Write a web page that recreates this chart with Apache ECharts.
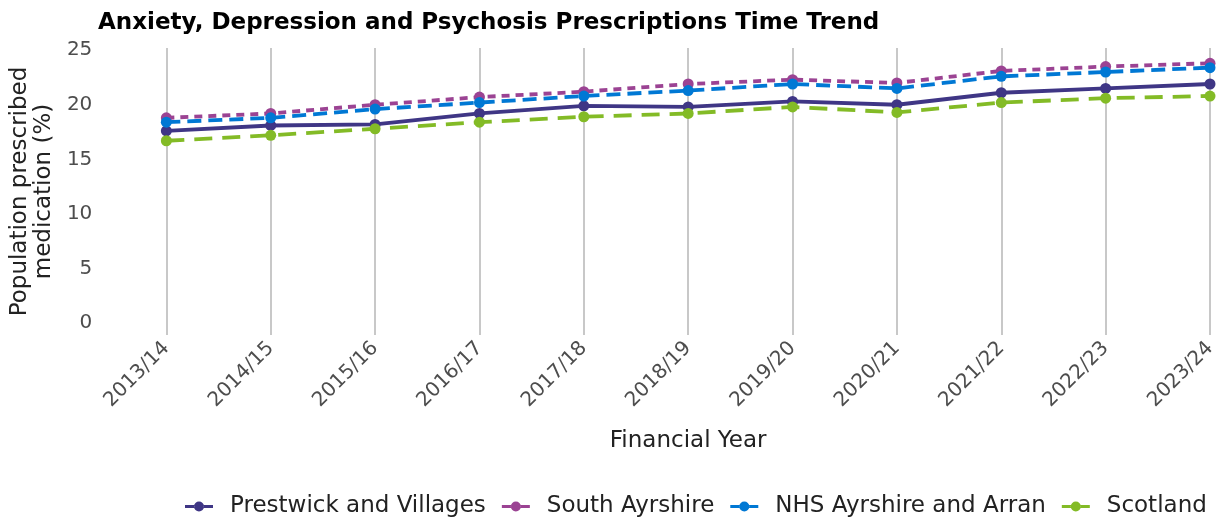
<!DOCTYPE html>
<html>
<head>
<meta charset="utf-8">
<script src="https://cdn.jsdelivr.net/npm/echarts@6/dist/echarts.min.js"></script>
<style>
  html, body { margin: 0; padding: 0; background: #fff; }
  #chart { width: 1222px; height: 517px; }
</style>
</head>
<body>
<div id="chart"></div>
<script>
const years = ['2013/14', '2014/15', '2015/16', '2016/17', '2017/18', '2018/19', '2019/20', '2020/21', '2021/22', '2022/23', '2023/24']
const prestwick = [17.6, 18.1, 18.2, 19.2, 19.9, 19.8, 20.3, 20.0, 21.1, 21.5, 21.9]
const southAyrshire = [18.8, 19.2, 20.0, 20.7, 21.2, 21.9, 22.3, 22.0, 23.1, 23.5, 23.8]
const nhsAyrshire = [18.4, 18.8, 19.6, 20.2, 20.8, 21.3, 21.9, 21.5, 22.6, 23.0, 23.4]
const scotland = [16.7, 17.2, 17.8, 18.4, 18.9, 19.2, 19.8, 19.3, 20.2, 20.6, 20.8]
const yTicks = [0, 5, 10, 15, 20, 25]

const font = 'DejaVu Sans'
const seriesDefs = [
  { name: 'Prestwick and Villages', data: prestwick, color: '#3f3685', type: 'solid' },
  { name: 'South Ayrshire', data: southAyrshire, color: '#9b4393', type: [8, 6] },
  { name: 'NHS Ayrshire and Arran', data: nhsAyrshire, color: '#0078d4', type: [14, 7] },
  { name: 'Scotland', data: scotland, color: '#83bb26', type: [18, 10] }
]
// legend key: short solid line with a dot, padded on the right so text sits further out
const legendIcon = 'path://M0,4.5H9.2V7.5H0Z M18.8,4.5H28V7.5H18.8Z M9,6a5,5 0 1,0 10,0a5,5 0 1,0 -10,0Z M39.95,0H40V0.05H39.95Z M39.95,11.95H40V12H39.95Z'

const myChart = echarts.init(document.getElementById('chart'))
const option = {
  animation: false,
  textStyle: { fontFamily: font },
  title: {
    text: 'Anxiety, Depression and Psychosis Prescriptions Time Trend',
    left: 98,
    top: 12,
    padding: 0,
    textStyle: { fontFamily: font, fontSize: 23, fontWeight: 'bold', color: '#000' }
  },
  legend: {
    top: 495,
    left: 185,
    padding: 0,
    icon: legendIcon,
    itemWidth: 40,
    itemHeight: 12,
    itemGap: 16,
    itemStyle: { borderWidth: 0 },
    lineStyle: { width: 0 },
    textStyle: { fontFamily: font, fontSize: 23, color: '#222' },
    data: seriesDefs.map(s => s.name)
  },
  grid: {
    left: 165,
    right: 12,
    top: 48,
    bottom: 182
  },
  xAxis: {
    type: 'category',
    boundaryGap: false,
    data: years,
    name: 'Financial Year',
    nameLocation: 'middle',
    nameGap: 95,
    nameTextStyle: { fontFamily: font, fontSize: 23, color: '#222' },
    axisLine: { show: false },
    axisTick: { show: false },
    axisLabel: { rotate: 45, fontSize: 20, color: '#4d4d4d', margin: 10, fontFamily: font },
    splitLine: { show: true, lineStyle: { color: '#c8c8c8', width: 2 } }
  },
  yAxis: {
    type: 'value',
    min: -1.1,
    max: 25.2,
    name: 'Population prescribed\nmedication (%)',
    nameLocation: 'middle',
    nameRotate: 90,
    nameGap: 100,
    nameTextStyle: { fontFamily: font, fontSize: 23, color: '#222', lineHeight: 24 },
    axisLine: { show: false },
    axisTick: { show: false },
    splitLine: { show: false },
    axisLabel: {
      customValues: yTicks,
      fontSize: 20,
      color: '#4d4d4d',
      margin: 74,
      align: 'right',
      fontFamily: font
    }
  },
  series: seriesDefs.map(s => ({
    name: s.name,
    type: 'line',
    data: s.data,
    color: s.color,
    symbol: 'circle',
    symbolSize: 11,
    lineStyle: { width: 3.8, type: s.type, color: s.color },
    itemStyle: { color: s.color }
  }))
}
myChart.setOption(option)
</script>
</body>
</html>
